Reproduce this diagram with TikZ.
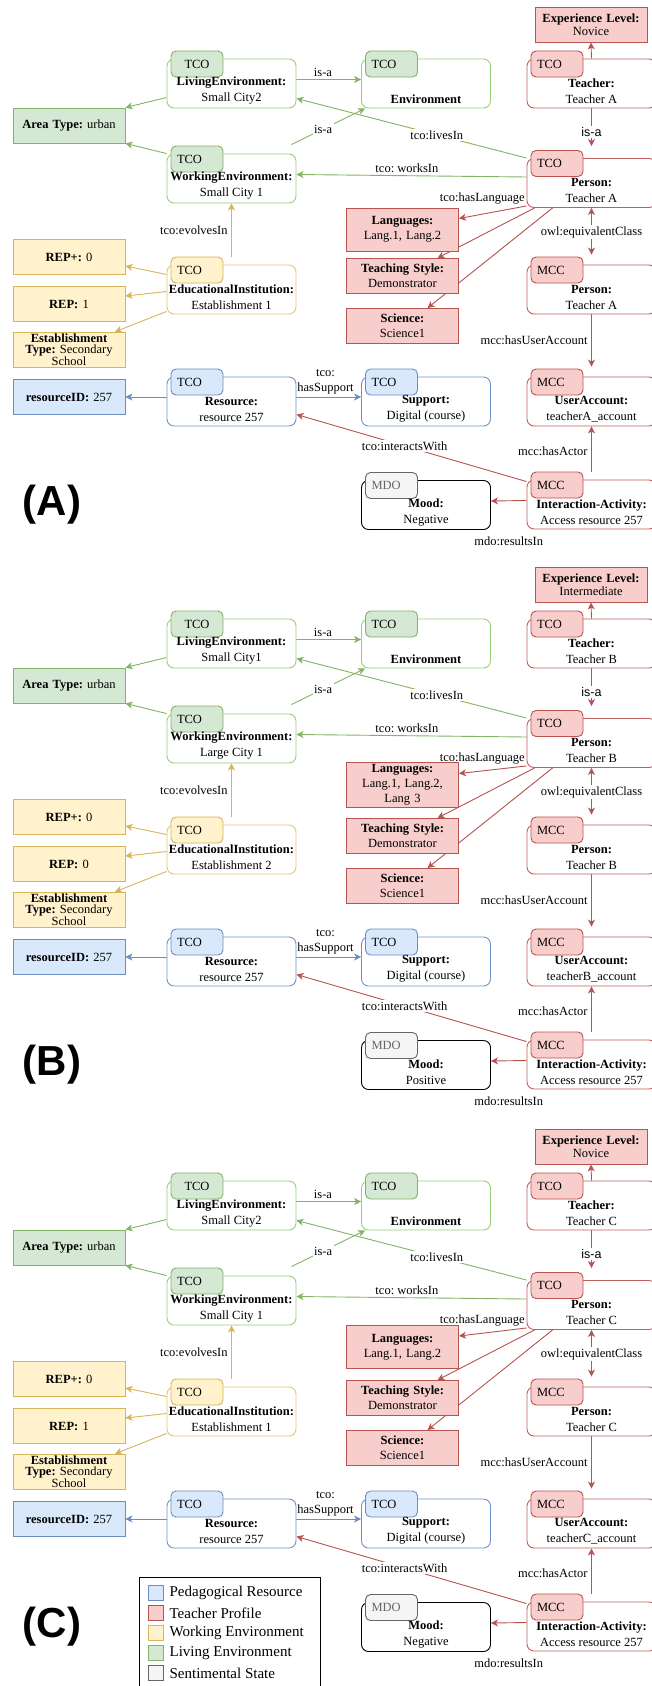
\documentclass[tikz,border=0pt]{standalone}
\usepackage{fontspec}
\setmainfont{Liberation Serif}
\newfontfamily\sansfont{Liberation Sans}
\frenchspacing
\usetikzlibrary{arrows.meta,positioning,backgrounds}

\definecolor{grnF}{HTML}{D5E8D4}
\definecolor{grnD}{HTML}{82B366}
\definecolor{grnL}{HTML}{97D077}
\definecolor{redF}{HTML}{F8CECC}
\definecolor{redD}{HTML}{B85450}
\definecolor{redL}{HTML}{C0605C}
\definecolor{yelF}{HTML}{FFF2CC}
\definecolor{yelD}{HTML}{D6B656}
\definecolor{yelL}{HTML}{E8C66A}
\definecolor{bluF}{HTML}{DAE8FC}
\definecolor{bluD}{HTML}{6C8EBF}
\definecolor{bluL}{HTML}{7194C8}
\definecolor{gryF}{HTML}{F5F5F5}
\definecolor{gryD}{HTML}{666666}
\definecolor{gryL}{HTML}{000000}

% card with a small tab on its top left corner
\newcommand{\card}[6][]{%
  \node[card=#4] (#2) at (#3) {};
  \node[tab=#4, #1] (#2-tab) at ([xshift=4pt,yshift=8pt]#2.north west) {#5};
  \node[cardtxt] (#2-txt) at ([yshift=-7.5pt]#2.center) {#6};}

\begin{document}
\frenchspacing
\begin{tikzpicture}[
  x=1pt, y=-1pt,
  font=\fontsize{12.5}{15}\selectfont,
  >={Stealth[length=7pt,width=7pt,inset=2pt]},
  card/.style={draw=#1L, fill=white, rounded corners=7pt, minimum width=129pt, minimum height=49pt, inner sep=0pt, line width=0.9pt},
  tab/.style={draw=#1D, fill=#1F, rounded corners=5pt, minimum width=52pt, minimum height=26pt, text width=40pt, inner xsep=6pt, inner ysep=0pt, align=left, anchor=north west, line width=0.9pt},
  cardtxt/.style={align=center, inner sep=0pt, font=\fontsize{12.5}{16}\selectfont},
  attr/.style={draw=#1D, fill=#1F, minimum width=112pt, minimum height=35pt, text width=108pt, align=center, inner sep=2pt, line width=0.9pt},
  arr/.style={->, line width=0.9pt},
  lbl/.style={inner sep=1.5pt, text=black},
  wlbl/.style={lbl, fill=white},
  sanslbl/.style={wlbl, font=\sansfont\fontsize{12.5}{15}\selectfont},
  panel/.style={font=\sansfont\bfseries\fontsize{42}{42}\selectfont, inner sep=0pt},
  swatch/.style={draw=#1D, fill=#1F, minimum size=15pt, inner sep=0pt, line width=0.8pt},
  legtxt/.style={inner sep=1pt, font=\fontsize{15}{18}\selectfont}
]
\useasboundingbox (0,0) rectangle (651,1686);
\begin{scope}[on background layer]
\fill[white] (0,0) rectangle (651,1686);
\end{scope}

\foreach \p/\dy/\lcity/\wcity/\rep/\est/\xp/\lang/\ly/\mood in {
  A/0/Small City2/Small City 1/1/1/Novice/{Lang.1, Lang.2}/229.5/Negative,
  B/560/Small City1/Large City 1/0/2/Intermediate/{Lang.1, Lang.2,\\Lang 3}/224.5/Positive,
  C/1122/Small City2/Small City 1/1/1/Novice/{Lang.1, Lang.2}/225/Negative}{
\begin{scope}[shift={(0,\dy)}]
% environments
\card[align=center]{le\p}{231.5,83.5}{grn}{TCO}{\textbf{LivingEnvironment:}\\\lcity}
\card{env\p}{426,83.5}{grn}{TCO}{\vphantom{L}\\\textbf{Environment}}
\card{we\p}{231.5,178.5}{grn}{TCO}{\textbf{WorkingEnvironment:}\\\wcity}
\node[attr=grn] (at\p) at (69,125.5) {\textbf{Area Type:} urban};

% institution
\card{edu\p}{231.5,289.5}{yel}{TCO}{\textbf{EducationalInstitution:}\\Establishment \est}
\node[attr=yel] (rp\p) at (69,257) {\textbf{REP+:} 0};
\node[attr=yel] (rep\p) at (69,304) {\textbf{REP:} \rep};
\node[attr=yel, font=\fontsize{12.5}{10.5}\selectfont] (est\p) at (69,350) {\textbf{Establishment}\\\textbf{Type:} Secondary\\School};

% resource
\card{res\p}{231.5,401.5}{blu}{TCO}{\textbf{Resource:}\\resource 257}
\card{sup\p}{426,401.5}{blu}{TCO}{\textbf{Support:}\\Digital (course)}
\node[attr=blu] (rid\p) at (69,397) {\textbf{resourceID:} 257};

% teacher
\node[attr=red, font=\fontsize{12.5}{13}\selectfont] (exp\p) at (591,24.5) {\textbf{Experience Level:}\\\xp};
\card{tch\p}{591.5,83.5}{red}{TCO}{\textbf{Teacher:}\\Teacher \p}
\card{pa\p}{591.5,183}{red}{TCO}{\textbf{Person:}\\Teacher \p}
\node[attr=red, minimum height=43pt] (lang\p) at (402.5,\ly) {\textbf{Languages:}\\\lang};
\node[attr=red] (ts\p) at (402.5,276) {\textbf{Teaching Style:}\\Demonstrator};
\node[attr=red] (sci\p) at (402.5,326) {\textbf{Science:}\\Science1};
\card{mp\p}{591.5,289.5}{red}{MCC}{\textbf{Person:}\\Teacher \p}
\card{ua\p}{591.5,401.5}{red}{MCC}{\textbf{UserAccount:}\\teacher\p\_account}
\card{ia\p}{591.5,504.5}{red}{MCC}{\textbf{Interaction-Activity:}\\Access resource 257}
\card[text=gryD]{mood\p}{426,505}{gry}{MDO}{\textbf{Mood:}\\\mood}

\node[panel] (tag\p) at (52,505) {(\p)};

% connectors
\begin{scope}[on background layer]
\draw[arr, grnD] ([yshift=-14pt]le\p.west) -- (at\p.north east);
\draw[arr, grnD] (we\p.north west) -- (at\p.south east);
\draw[arr, grnD] ([yshift=4pt]le\p.east) -- node[lbl, above=1pt, pos=0.41] {is-a} ([yshift=4pt]env\p.west);
\draw[arr, grnD] ([shift={(-5pt,9pt)}]we\p.north east) -- node[wlbl, pos=0.43] {is-a} ([xshift=4pt]env\p.south west);
\draw[arr, grnD] (pa\p.north west) -- node[wlbl, pos=0.39] {tco:livesIn} ([yshift=10pt]le\p.south east);
\draw[arr, grnD] ([yshift=6pt]pa\p.west) -- node[lbl, above=1pt, pos=0.52] {tco: worksIn} ([yshift=4pt]we\p.east);

\draw[arr, yelD] ([yshift=8pt]edu\p.north) -- node[lbl, left=2pt] {tco:evolvesIn} (we\p.south);
\draw[arr, yelD] ([yshift=15pt]edu\p.west) -- ([yshift=-9pt]rp\p.east);
\draw[arr, yelD] ([yshift=-2pt]edu\p.west) -- ([yshift=8pt]rep\p.east);
\draw[arr, yelD] ([yshift=3pt]edu\p.south west) -- ([xshift=46pt]est\p.north);

\draw[arr, bluD] ([yshift=4.5pt]res\p.east) -- node[lbl, above=1pt, align=center, pos=0.45] {tco:\\hasSupport} ([yshift=4.5pt]sup\p.west);
\draw[arr, bluD] ([yshift=4.5pt]res\p.west) -- (rid\p.east);

\draw[arr, redD] (tch\p.north) -- (exp\p.south);
\draw[arr, redD] (tch\p.south) -- node[sanslbl, pos=0.62] {is-a} ([yshift=12pt]pa\p.north);
\draw[arr, redD] ([yshift=2pt]pa\p.south west) -- node[lbl, pos=0, anchor=south east] {tco:hasLanguage} ([yshift=11pt]lang\p.east);
\draw[arr, redD] ([xshift=8pt]pa\p.south west) -- ([xshift=35pt]ts\p.north);
\draw[arr, redD] ([xshift=26pt]pa\p.south west) -- ([xshift=25pt]sci\p.north);
\draw[<->, line width=0.9pt, redD] (pa\p.south) -- node[wlbl, pos=0.52] {owl:equivalentClass} ([yshift=10pt]mp\p.north);
\draw[arr, redD] (mp\p.south) -- node[lbl, left=2pt, pos=0.49] {mcc:hasUserAccount} ([yshift=10pt]ua\p.north);
\draw[arr, redD] ([yshift=8pt]ia\p.north) -- node[lbl, left=2pt, pos=0.45] {mcc:hasActor} (ua\p.south);
\draw[arr, redD] ([yshift=4pt]ia\p.west) -- node[lbl, below=34pt] {mdo:resultsIn} ([yshift=4pt]mood\p.east);
\draw[arr, redD] ([yshift=-2pt]ia\p.north west) -- node[wlbl, pos=0.53] {tco:interactsWith} ([yshift=-13pt]res\p.east);
\end{scope}
\end{scope}
}

% legend
\node[draw, line width=0.9pt, minimum width=181pt, minimum height=116pt, anchor=north west, inner sep=0pt] (legend) at (139,1577) {};
\foreach \i/\c/\t in {0/blu/Pedagogical Resource,1/red/Teacher Profile,2/yel/Working Environment,3/grn/Living Environment,4/gry/Sentimental State}{
  \node[swatch=\c] (sw\i) at (155.5,{1593+20*\i}) {};
  \node[legtxt, right=5pt of sw\i] (lt\i) {\t};
}
\end{tikzpicture}
\end{document}
